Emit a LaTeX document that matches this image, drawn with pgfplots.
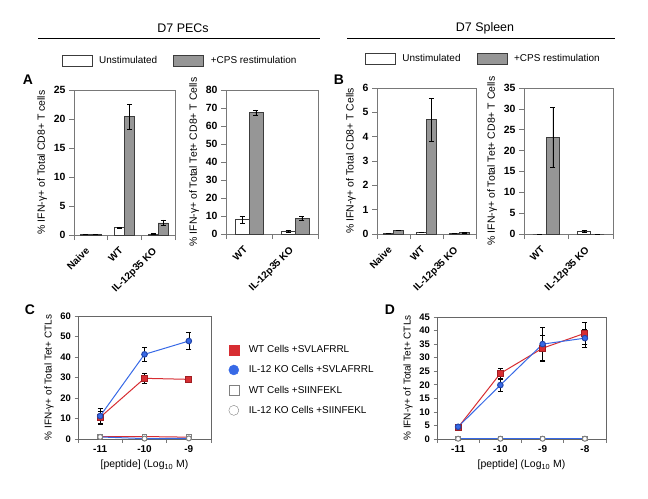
\documentclass[border=0pt]{standalone}
\usepackage{fontspec}
\setmainfont{Liberation Sans}
\usepackage{pgfplots}
\pgfplotsset{compat=1.18}
\definecolor{barg}{RGB}{150,150,150}
\definecolor{bare}{RGB}{60,60,60}
\definecolor{axg}{RGB}{120,120,120}
\definecolor{myred}{RGB}{215,45,50}
\definecolor{myredd}{RGB}{160,30,35}
\definecolor{myblue}{RGB}{55,105,230}
\definecolor{mybluedd}{RGB}{35,70,170}
\newcommand{\fs}[1]{\fontsize{#1}{#1}\selectfont}
\pgfplotsset{
  common/.style={
    scale only axis, anchor=south west, ymin=0,
    axis line style={axg},
    every tick/.style={axg, line width=0.6bp},
    tick align=outside, xtick pos=bottom, ytick pos=left,
    x tick label as interval,
    /pgf/number format/assume math mode=true,
    yticklabel={\textbf{\pgfmathprintnumber{\tick}}},
  },
  barax/.style={common,
    ybar, bar width=0.3,
    major tick length=5bp,
    yticklabel style={font=\bfseries\fs{10.5}},
    xticklabel style={font=\bfseries\fs{10}, xshift=-6bp, yshift=-5bp, rotate=45, anchor=north east, inner sep=1bp},
    ylabel style={font=\fs{10.5}},
  },
  eb/.style={error bars/.cd, y dir=both, y explicit,
    error bar style={black, line width=0.6bp},
    error mark options={rotate=90, black, mark size=2.5bp, line width=0.6bp}},
  unst/.style={fill=white, draw=bare, line width=0.6bp, bar shift=-0.15,
    legend image code/.code={\draw[##1] (0bp,-5.5bp) rectangle (30bp,5.5bp);}, eb},
  cps/.style={fill=barg, draw=bare, line width=0.6bp, bar shift=0.15,
    legend image code/.code={\draw[##1] (0bp,-5.5bp) rectangle (30bp,5.5bp);}, eb},
  toplegend/.style={legend style={at={(-0.155,1.2)}, anchor=west, draw=none, fill=none,
    font=\fs{10}, legend columns=2,
    /tikz/every odd column/.append style={column sep=5bp},
    /tikz/every even column/.append style={column sep=14bp}}},
  lineax/.style={common,
    major tick length=3.5bp,
    axis line style={black!60},
    yticklabel style={font=\bfseries\fs{9.5}},
    xticklabel style={font=\bfseries\fs{10}},
    ylabel style={font=\fs{10}},
    xlabel style={font=\fs{10.5}},
  },
}
\begin{document}
\begin{tikzpicture}
\useasboundingbox (0,0) rectangle (648bp,-499bp);
% titles
\node[font=\fs{12.5}] at (183bp,-28bp) {D7 PECs};
\draw[line width=0.8bp] (38bp,-38bp) -- (320bp,-38bp);
\node[font=\fs{12.5}] at (485bp,-28bp) {D7 Spleen};
\draw[line width=0.8bp] (347bp,-38bp) -- (615bp,-38bp);
\node[font=\bfseries\fs{14}] at (28bp,-80bp) {A};
\node[font=\bfseries\fs{14}] at (339bp,-80bp) {B};
\node[font=\bfseries\fs{14}] at (30bp,-310bp) {C};
\node[font=\bfseries\fs{14}] at (390bp,-310bp) {D};

% A left
\begin{axis}[barax, toplegend, at={(74bp,-235bp)}, width=101bp, height=145bp,
  xmin=-0.5, xmax=2.5, ymax=25, ytick={0,5,...,25},
  xtick={-0.5,0.5,1.5,2.5}, xticklabels={\textbf{Naive},\textbf{WT},\textbf{IL-12p35 KO}},
  ylabel={\% IFN-γ+ of Total CD8+ T cells}]
\addplot[unst] coordinates {(0,0.05) +- (0,0) (1,1.3) +- (0,0.1) (2,0.2) +- (0,0.05)};
\addlegendentry{Unstimulated}
\addplot[cps] coordinates {(0,0.1) +- (0,0) (1,20.4) +- (0,2.1) (2,2.1) +- (0,0.5)};
\addlegendentry{+CPS restimulation}
\end{axis}

% A right
\begin{axis}[barax, at={(226bp,-234bp)}, width=92bp, height=144bp,
  xmin=-0.5, xmax=1.5, ymax=80, ytick={0,10,...,80},
  xtick={-0.5,0.5,1.5}, xticklabels={\textbf{WT},\textbf{IL-12p35 KO}},
  ylabel={\% IFN-γ+ of Total Tet+ CD8+ T Cells}]
\addplot[unst] coordinates {(0,8.0) +- (0,1.8) (1,1.5) +- (0,0.5)};
\addplot[cps] coordinates {(0,67.5) +- (0,1.5) (1,8.8) +- (0,1.0)};
\end{axis}

% B left
\begin{axis}[barax, toplegend, at={(377bp,-234bp)}, width=99bp, height=146bp,
  xmin=-0.5, xmax=2.5, ymax=6, ytick={0,1,...,6},
  xtick={-0.5,0.5,1.5,2.5}, xticklabels={\textbf{Naive},\textbf{WT},\textbf{IL-12p35 KO}},
  ylabel={\% IFN-γ+ of Total CD8+ T Cells}]
\addplot[unst] coordinates {(0,0.02) +- (0,0) (1,0.08) +- (0,0.01) (2,0.02) +- (0,0)};
\addlegendentry{Unstimulated}
\addplot[cps] coordinates {(0,0.14) +- (0,0) (1,4.7) +- (0,0.87) (2,0.05) +- (0,0.02)};
\addlegendentry{+CPS restimulation}
\end{axis}

% B right
\begin{axis}[barax, at={(524bp,-234bp)}, width=89bp, height=146bp,
  xmin=-0.5, xmax=1.5, ymax=35, ytick={0,5,...,35},
  xtick={-0.5,0.5,1.5}, xticklabels={\textbf{WT},\textbf{IL-12p35 KO}},
  ylabel={\% IFN-γ+ of Total Tet+ CD8+ T Cells}]
\addplot[unst] coordinates {(0,0) +- (0,0) (1,0.6) +- (0,0.2)};
\addplot[cps] coordinates {(0,23.2) +- (0,7.1) (1,0) +- (0,0)};
\end{axis}

% C
\begin{axis}[lineax, at={(78bp,-439bp)}, width=133bp, height=123bp,
  xmin=-11.5, xmax=-8.5, ymax=60, ytick={0,10,...,60},
  xtick={-11.5,-10.5,-9.5,-8.5}, xticklabels={\textbf{-11},\textbf{-10},\textbf{-9}},
  ylabel={\% IFN-γ+ of Total Tet+ CTLs},
  xlabel={[peptide] (Log\textsubscript{10} M)},
  legend style={at={(1.11,0.795)}, anchor=north west, draw=none, fill=none,
    font=\fs{10}, row sep=7.5bp, /tikz/every odd column/.append style={column sep=8bp}},
  legend cell align=left]
\addplot[myred, line width=1bp, mark=square*, mark size=2.2bp, forget plot,
  mark options={fill=white, draw=gray}] coordinates {(-11,1.2) (-10,1.2) (-9,0.9)};
\addplot[myblue, line width=1bp, mark=*, mark size=2.5bp, forget plot,
  mark options={fill=white, draw=gray}] coordinates {(-11,1.0) (-10,0.2) (-9,0.3)};
\addplot[myred, line width=1bp, mark=square*, mark size=3bp, forget plot,
  mark options={fill=myred, draw=myredd}, eb]
  coordinates {(-11,10.6) +- (0,3) (-10,29.6) +- (0,2.4) (-9,29.1) +- (0,1.5)};
\addplot[myblue, line width=1bp, mark=*, mark size=2.8bp, forget plot,
  mark options={fill=myblue, draw=mybluedd}, eb]
  coordinates {(-11,11.2) +- (0,3.8) (-10,41.3) +- (0,3.6) (-9,47.8) +- (0,4.2)};
\addlegendimage{only marks, mark=square*, mark size=5bp, mark options={fill=myred, draw=myred}}
\addlegendentry{WT Cells +SVLAFRRL}
\addlegendimage{only marks, mark=*, mark size=5bp, mark options={fill=myblue, draw=myblue}}
\addlegendentry{IL-12 KO Cells +SVLAFRRL}
\addlegendimage{only marks, mark=square, mark size=5bp, mark options={draw=gray, fill=white}}
\addlegendentry{WT Cells +SIINFEKL}
\addlegendimage{only marks, mark=o, mark size=5bp, mark options={draw=gray, fill=white}}
\addlegendentry{IL-12 KO Cells +SIINFEKL}
\end{axis}

% D
\begin{axis}[lineax, at={(437bp,-439bp)}, width=169bp, height=122bp,
  xmin=-11.5, xmax=-7.5, ymax=45, ytick={0,5,...,45},
  xtick={-11.5,-10.5,-9.5,-8.5,-7.5}, xticklabels={\textbf{-11},\textbf{-10},\textbf{-9},\textbf{-8}},
  ylabel={\% IFN-γ+ of Total Tet+ CTLs},
  xlabel={[peptide] (Log\textsubscript{10} M)}]
\addplot[myred, line width=1bp, mark=square*, mark size=2.2bp,
  mark options={fill=white, draw=gray}] coordinates {(-11,0.1) (-10,0.1) (-9,0.1) (-8,0.1)};
\addplot[myblue, line width=1bp, mark=*, mark size=2.5bp,
  mark options={fill=white, draw=gray}] coordinates {(-11,0.1) (-10,0.1) (-9,0.1) (-8,0.1)};
\addplot[myred, line width=1bp, mark=square*, mark size=3bp,
  mark options={fill=myred, draw=myredd}, eb]
  coordinates {(-11,4.3) +- (0,0.5) (-10,24.2) +- (0,2) (-9,33.5) +- (0,4.6) (-8,39.0) +- (0,3.9)};
\addplot[myblue, line width=1bp, mark=*, mark size=2.8bp,
  mark options={fill=myblue, draw=mybluedd}, eb]
  coordinates {(-11,4.5) +- (0,0.5) (-10,19.9) +- (0,2.4) (-9,35.0) +- (0,6.2) (-8,37.2) +- (0,3.2)};
\end{axis}
\end{tikzpicture}
\end{document}
